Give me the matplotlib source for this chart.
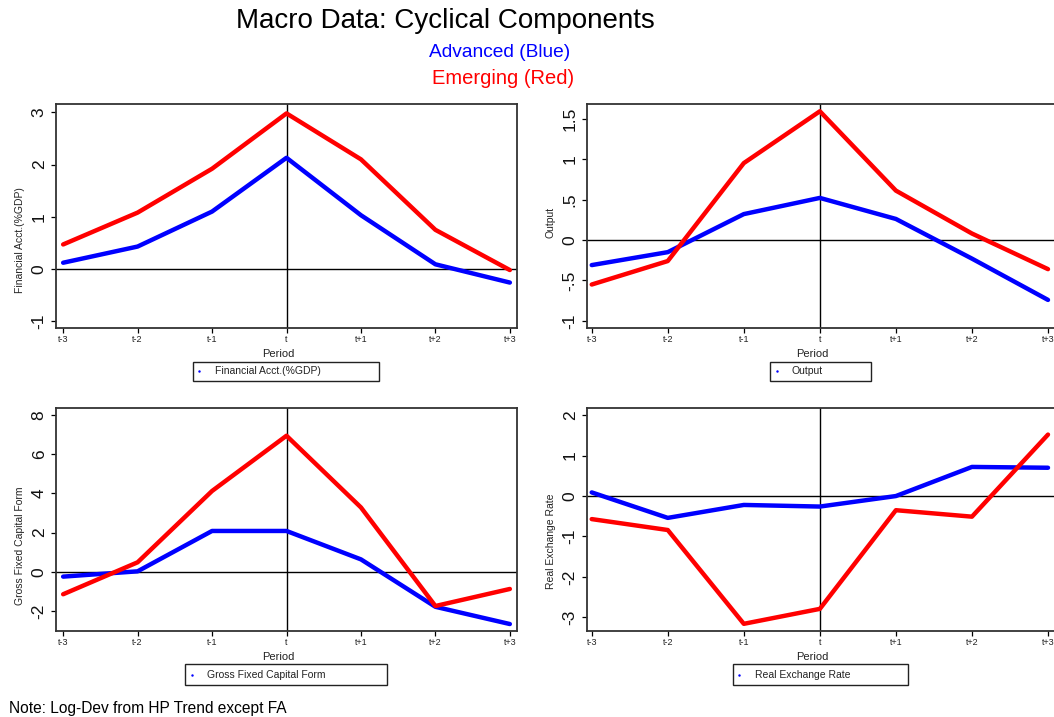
import matplotlib
matplotlib.use("Agg")
import matplotlib.pyplot as plt
from matplotlib.patches import Rectangle
from matplotlib.lines import Line2D

plt.rcParams["font.family"] = ["Liberation Sans", "DejaVu Sans"]

periods = ["t-3", "t-2", "t-1", "t", "t+1", "t+2", "t+3"]

fa_adv = [0.12, 0.43, 1.10, 2.13, 1.03, 0.09, -0.26]
fa_emg = [0.47, 1.08, 1.92, 2.98, 2.10, 0.75, -0.02]
out_adv = [-0.31, -0.15, 0.32, 0.52, 0.26, -0.23, -0.74]
out_emg = [-0.55, -0.26, 0.95, 1.59, 0.61, 0.08, -0.36]
gfcf_adv = [-0.25, 0.02, 2.08, 2.08, 0.63, -1.79, -2.67]
gfcf_emg = [-1.15, 0.48, 4.12, 6.94, 3.28, -1.75, -0.88]
rer_adv = [0.09, -0.54, -0.22, -0.26, 0.0, 0.72, 0.70]
rer_emg = [-0.57, -0.84, -3.16, -2.79, -0.35, -0.51, 1.52]

W, H = 1054, 717
fig = plt.figure(figsize=(W / 100, H / 100), dpi=100)

def fx(px):
    return px / W

def fy(py):
    return 1 - py / H

panels = [
    # name, adv, emg, rect(px: left, top, right, bottom), xlim, ylim, yticks, yticklabels, ylabel y, legend box px
    ("Financial Acct.(%GDP)", fa_adv, fa_emg, (55.7, 104, 517.3, 328), (-0.1, 6.1), (-1.13, 3.16),
     [-1, 0, 1, 2, 3], ["-1", "0", "1", "2", "3"], 0.393, (192.7, 361.7, 379, 381)),
    ("Output", out_adv, out_emg, (586.7, 104, 1055.6, 328), (-0.066, 6.1), (-1.087, 1.68),
     [-1, -0.5, 0, 0.5, 1, 1.5], ["-1", "-.5", "0", ".5", "1", "1.5"], 0.47, (770, 361.7, 870.7, 381)),
    ("Gross Fixed Capital Form", gfcf_adv, gfcf_emg, (55.7, 408.3, 517.3, 630.7), (-0.1, 6.1), (-3.01, 8.34),
     [-2, 0, 2, 4, 6, 8], ["-2", "0", "2", "4", "6", "8"], 0.382, (185, 664.3, 386.7, 684.7)),
    ("Real Exchange Rate", rer_adv, rer_emg, (586.7, 408.3, 1055.6, 630.7), (-0.066, 6.1), (-3.33, 2.17),
     [-3, -2, -1, 0, 1, 2], ["-3", "-2", "-1", "0", "1", "2"], 0.40, (732.7, 664.3, 908.3, 684.7)),
]

x = list(range(len(periods)))
for name, adv, emg, (l, t, r, b), xl, yl, yt, ytl, ly, (bl, bt, br, bb) in panels:
    ax = fig.add_axes([fx(l), fy(b), fx(r - l), (b - t) / H])
    ax.axhline(0, color="black", lw=1.0, zorder=1)
    ax.axvline(3, color="black", lw=1.0, zorder=1)
    ax.plot(x, adv, color="#0000ff", lw=3.2, solid_capstyle="round", zorder=2)
    ax.plot(x, emg, color="#ff0000", lw=3.2, solid_capstyle="round", zorder=3)
    ax.set_xlim(*xl)
    ax.set_ylim(*yl)
    ax.set_xticks(x)
    ax.set_xticklabels(periods, fontsize=6.5, color="#222222")
    ax.set_yticks(yt)
    ax.set_yticklabels(ytl, fontsize=12.5, rotation=90, va="center", color="#111111")
    ax.tick_params(axis="x", length=3.5, width=0.9, pad=1.5, direction="out")
    ax.tick_params(axis="y", length=3.5, width=0.9, pad=3, direction="out")
    for s in ax.spines.values():
        s.set_color("#333333")
        s.set_linewidth(1.3)
    ax.set_xlabel("Period", fontsize=8, color="#222222")
    ax.xaxis.set_label_coords(0.482, -0.094)
    ax.set_ylabel(name, fontsize=7.5, color="#222222")
    ax.yaxis.set_label_coords(-0.066, ly)
    # legend box
    fig.add_artist(Rectangle((fx(bl), fy(bb)), fx(br - bl), (bb - bt) / H,
                             transform=fig.transFigure, fill=False, edgecolor="#222222", lw=1.0))
    cy = fy((bt + bb) / 2)
    fig.add_artist(Line2D([fx(bl + 6.5)], [cy], marker=".", markersize=1.5, color="#0000ff",
                          transform=fig.transFigure, linestyle="none"))
    fig.text(fx(bl + 22), cy, name, fontsize=7.5, va="center", ha="left", color="#222222")

fig.text(0.423, fy(28), "Macro Data: Cyclical Components", fontsize=20, ha="center", va="baseline")
fig.text(0.4745, fy(57), "Advanced (Blue)", fontsize=13.8, ha="center", va="baseline", color="#0000ff")
fig.text(0.477, fy(84), "Emerging (Red)", fontsize=14.5, ha="center", va="baseline", color="#ff0000")
fig.text(fx(9), fy(713), "Note: Log-Dev from HP Trend except FA", fontsize=11.2, ha="left", va="baseline")

fig.savefig("out.png", dpi=100)
